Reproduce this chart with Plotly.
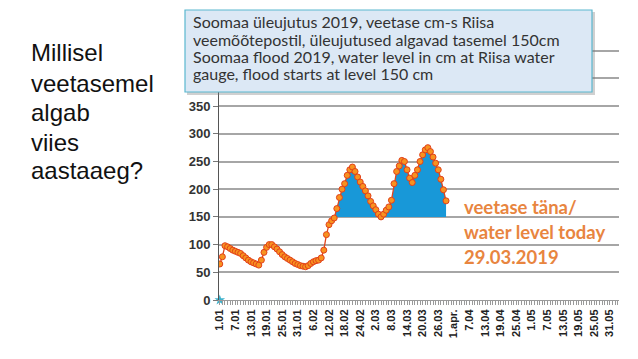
import plotly.graph_objects as go
import numpy as np

# ---- data ----
tick_labels = ["1.01", "7.01", "13.01", "19.01", "25.01", "31.01", "6.02", "12.02",
               "18.02", "24.02", "2.03", "8.03", "14.03", "20.03", "26.03", "1.apr.",
               "7.04", "13.04", "19.04", "25.04", "1.05", "7.05", "13.05", "19.05",
               "25.05", "31.05"]
tick_days = list(range(0, 151, 6))

# daily water level (cm) from 1.01 to 29.03.2019
water_level = [65, 78, 98, 96, 93, 90, 88, 86, 84, 80,
               76, 72, 69, 67, 65, 63, 72, 86, 95, 100,
               100, 96, 92, 87, 82, 78, 75, 72, 69, 66,
               64, 62, 61, 60, 62, 66, 69, 71, 72, 76,
               90, 118, 136, 143, 148, 165, 185, 200, 210, 225,
               235, 240, 232, 222, 213, 205, 197, 188, 178, 170,
               163, 155, 150, 155, 162, 168, 180, 210, 232, 242,
               252, 250, 235, 220, 212, 225, 235, 250, 262, 271,
               275, 268, 258, 247, 235, 218, 199, 179]
days = list(range(len(water_level)))
flood_level = 150

second_series_x = [0]
second_series_y = [0]

left_lines = ["Millisel", "veetasemel", "algab", "viies", "aastaaeg?"]
title_lines = ["Soomaa üleujutus 2019, veetase cm-s Riisa",
               "veemõõtepostil, üleujutused algavad tasemel 150cm",
               "Soomaa flood 2019, water level in cm at Riisa water",
               "gauge, flood starts at level 150 cm"]
today_lines = ["veetase täna/", "water level today", "29.03.2019"]

y_tickvals = list(range(0, 501, 50))
y_ticktext = [str(v) if v <= 350 else "" for v in y_tickvals]

# ---- figure ----
fig = go.Figure()
fig.add_trace(go.Scatter(x=days, y=[flood_level] * len(days), mode="lines",
                         line=dict(width=0, color="rgba(0,0,0,0)"),
                         hoverinfo="skip", showlegend=False))
fig.add_trace(go.Scatter(x=days, y=np.maximum(np.array(water_level), flood_level),
                         mode="lines", fill="tonexty", fillcolor="#1898d8",
                         line=dict(width=0, color="rgba(0,0,0,0)"),
                         hoverinfo="skip", showlegend=False))
fig.add_trace(go.Scatter(x=days, y=water_level, mode="lines+markers",
                         line=dict(color="#e0441c", width=1.3),
                         marker=dict(size=6, color="#f7921f",
                                     line=dict(color="#e2401a", width=1)),
                         showlegend=False))
fig.add_trace(go.Scatter(x=second_series_x, y=second_series_y, mode="markers",
                         marker=dict(symbol="star", size=8, color="#3fb2cc"),
                         showlegend=False, cliponaxis=False))

fig.update_layout(
    width=638, height=359,
    margin=dict(l=219, r=19, t=23, b=59),
    paper_bgcolor="white", plot_bgcolor="white",
    showlegend=False,
    xaxis=dict(range=[-0.3, 153.5], tickmode="array", tickvals=tick_days,
               ticktext=["<b>%s</b>" % t for t in tick_labels], tickangle=-90,
               tickfont=dict(family="Liberation Sans, Arial", size=11, color="#222222"),
               showgrid=False, zeroline=False, showline=True, linecolor="#9a9a9a",
               linewidth=1, ticks="outside", ticklen=4, tickcolor="#9a9a9a",
               minor=dict(dtick=1, ticks="outside", ticklen=4, tickcolor="#9a9a9a",
                          showgrid=False)),
    yaxis=dict(range=[0, 500], tickmode="array", tickvals=y_tickvals,
               ticktext=["<b>%s</b>" % t if t else "" for t in y_ticktext],
               tickfont=dict(family="Liberation Sans, Arial", size=13, color="#333333"),
               showgrid=True, gridcolor="#a6a6a6", gridwidth=1.5, zeroline=False,
               showline=True, linecolor="#555555", linewidth=1,
               ticks="outside", ticklen=5, tickcolor="#777777"),
)


def px_x(px):
    return (px - 219) / 400.0


def px_y(py):
    return (300 - py) / 277.0


# title box (shadow + box)
fig.add_shape(type="rect", xref="paper", yref="paper",
              x0=px_x(187), x1=px_x(595), y0=px_y(95), y1=px_y(12),
              fillcolor="rgba(120,120,120,0.35)", line=dict(width=0), layer="above")
fig.add_shape(type="rect", xref="paper", yref="paper",
              x0=px_x(185), x1=px_x(592), y0=px_y(92), y1=px_y(10),
              fillcolor="#dce8f5", line=dict(color="#5ab7cf", width=1.2), layer="above")

title_y = [22, 39, 56, 73]
for txt, py in zip(title_lines, title_y):
    fig.add_annotation(text=txt, xref="paper", yref="paper", x=px_x(191), y=px_y(py),
                       xanchor="left", yanchor="middle", showarrow=False,
                       font=dict(family="Lato", size=16, color="#333333"))

left_y = [52, 83, 112, 142, 170]
for txt, py in zip(left_lines, left_y):
    fig.add_annotation(text=txt, xref="paper", yref="paper", x=px_x(29), y=px_y(py),
                       xanchor="left", yanchor="middle", showarrow=False,
                       font=dict(family="Liberation Sans, Arial", size=24, color="#111111"))

today_y = [207, 232, 257]
for txt, py in zip(today_lines, today_y):
    fig.add_annotation(text="<b>%s</b>" % txt, xref="paper", yref="paper",
                       x=px_x(462), y=px_y(py),
                       xanchor="left", yanchor="middle", showarrow=False,
                       font=dict(family="Lato", size=18.5, color="#e8853f"))

fig.write_html("out.html", config={"displayModeBar": False},
               post_script="document.body.style.margin='0px';")
